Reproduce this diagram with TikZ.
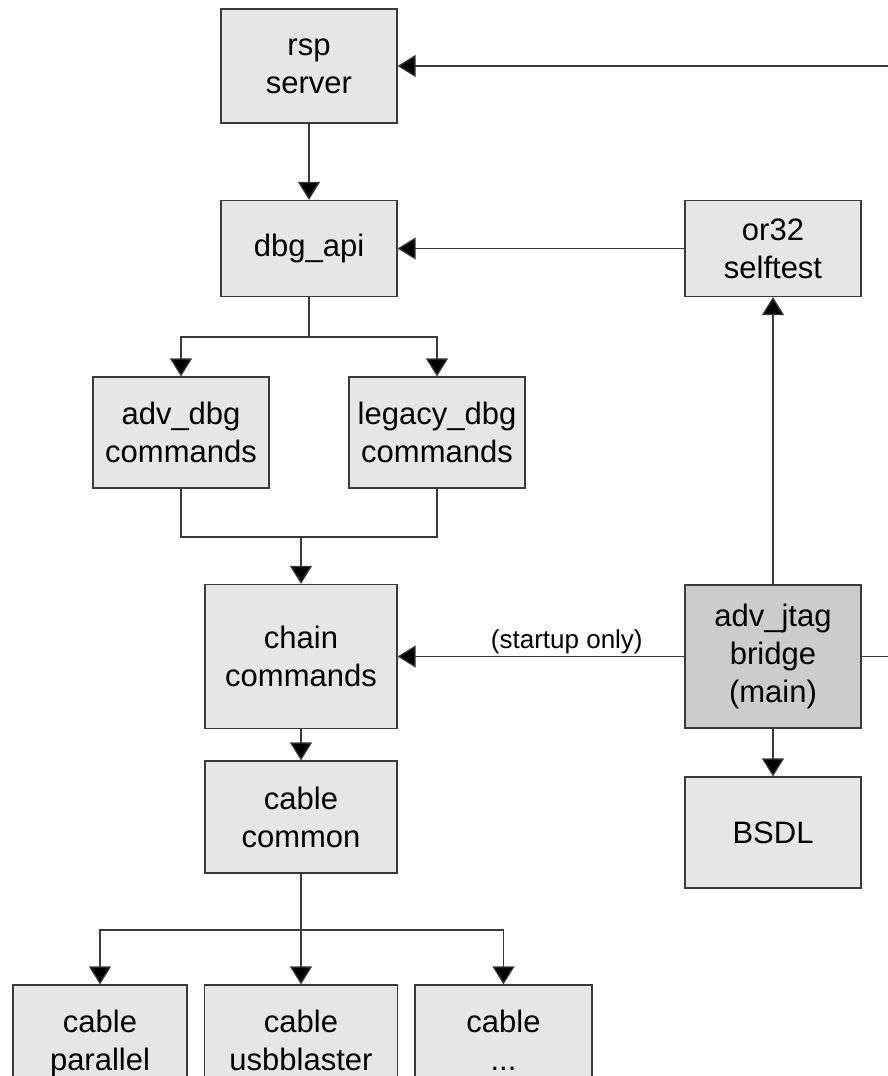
\documentclass[tikz,border=0pt]{standalone}
\usepackage{fontspec}
\setmainfont{Liberation Sans}
\usetikzlibrary{arrows.meta}
\definecolor{boxfill}{HTML}{E6E6E6}
\definecolor{mainfill}{HTML}{CCCCCC}
\definecolor{edge}{HTML}{3A3A3A}
\begin{document}
\begin{tikzpicture}[x=1pt,y=-1pt,
  block/.style={draw=edge, line width=1.2pt, fill=boxfill, inner sep=0pt,
    align=center, font=\fontsize{31}{38}\selectfont},
  link/.style={draw=edge, line width=1.2pt},
  arr/.style={link, -{Triangle[length=18pt,width=22pt,fill=black]}},
  note/.style={inner sep=0pt, font=\fontsize{26}{30}\selectfont}]
\useasboundingbox (0,0) rectangle (888,1076);
\clip (0,0) rectangle (888,1076);

% modules
\node[block, minimum width=176pt, minimum height=114pt] (rsp) at (309,66) {rsp\\server};
\node[block, minimum width=176pt, minimum height=96pt] (dbg) at (309,248.5) {dbg\_api};
\node[block, minimum width=176pt, minimum height=96pt] (or32) at (773,248.5) {or32\\selftest};
\node[block, minimum width=176pt, minimum height=111pt] (adv) at (181,432.5) {adv\_dbg\\commands};
\node[block, minimum width=176pt, minimum height=111pt] (legacy) at (437,432.5) {legacy\_dbg\\commands};
\node[block, minimum width=192pt, minimum height=144pt] (chain) at (301,656.5) {chain\\commands};
\node[block, minimum width=176pt, minimum height=143pt, fill=mainfill] (jtag) at (773,656.5) {adv\_jtag\\bridge\\(main)};
\node[block, minimum width=192pt, minimum height=112pt] (common) at (301,817) {cable\\common};
\node[block, minimum width=176pt, minimum height=111pt] (bsdl) at (773,832.5) {BSDL};
\node[block, minimum width=174pt, minimum height=116pt] (par) at (100,1043) {cable\\parallel};
\node[block, minimum width=193pt, minimum height=116pt] (usb) at (301,1043) {cable\\usbblaster\vphantom{p}};
\node[block, minimum width=177pt, minimum height=116pt] (dots) at (503.5,1043) {cable\\...\vphantom{p}};

% free ends and junctions
\coordinate (rin) at (888,66);
\coordinate (jout) at (888,656.5);
\coordinate (split) at (309,337);
\coordinate (merge) at (301,537);
\coordinate (fan) at (301,930);

% connectors
\draw[arr] (rin) -- (rsp.east);
\draw[arr] (rsp.south) -- (dbg.north);
\draw[arr] (or32.west) -- (dbg.east);
\draw[arr] (dbg.south) -- (split) -| (adv.north);
\draw[arr] (split) -| (legacy.north);
\draw[link] (adv.south) |- (merge) -| (legacy.south);
\draw[arr] (merge) -- (chain.north);
\draw[arr] (jtag.west) -- (chain.east)
  node[note, pos=0.41, above=2pt] {(startup only)};
\draw[link] (jtag.east) -- (jout);
\draw[arr] (jtag.north) -- (or32.south);
\draw[arr] (jtag.south) -- (bsdl.north);
\draw[arr] (chain.south) -- (common.north);
\draw[link] (common.south) -- (fan);
\draw[arr] (fan) -| (par.north);
\draw[arr] (fan) -- (usb.north);
\draw[arr] (fan) -| (dots.north);
\end{tikzpicture}
\end{document}
